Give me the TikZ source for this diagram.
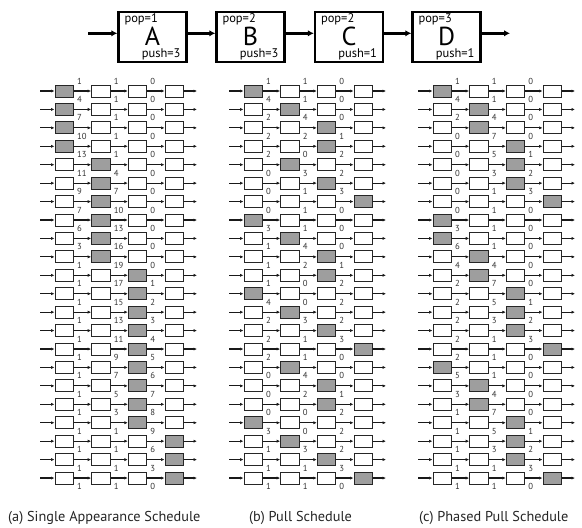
\documentclass[tikz,border=0pt]{standalone}
\usepackage{fontspec}
\setmainfont{PT Sans}
\usetikzlibrary{arrows.meta,calc}
\tikzset{
  cell/.style={draw=black!85, line width=0.9pt, minimum width=18.5pt, minimum height=12pt, inner sep=0pt, fill=white},
  fired/.style={cell, fill=black!38},
  link/.style={line width=1.1pt, draw=black!90, -{Latex[length=3.5pt,width=3.2pt]}},
  cnt/.style={font=\fontsize{8.7}{8.7}\selectfont, text=black!80, inner sep=0pt, anchor=base west},
  filt/.style={draw, line width=2.4pt, minimum width=68pt, minimum height=50pt, inner sep=0pt},
  flow/.style={line width=2.6pt, -{Latex[length=6pt,width=6.5pt]}},
  big/.style={font=\fontsize{26}{26}\selectfont, inner sep=0pt},
  rate/.style={font=\fontsize{12.5}{12.5}\selectfont, inner sep=0pt},
  capt/.style={font=\fontsize{14.3}{14.3}\selectfont, inner sep=0pt, anchor=base west, text=black!85},
}
\newcommand\schedcol[3]{%
  \foreach \s/\p/\q/\r [count=\i] in {#3} {
    \pgfmathsetmacro\yy{91+(\i-1)*18.43}
    \foreach \j in {1,2,3,4} {
      \pgfmathsetmacro\xx{#2+64.2+(\j-1)*36.67}
      \ifnum\j=\s\relax
        \node[fired] (#1-\i-\j) at (\xx,\yy) {};
      \else
        \node[cell] (#1-\i-\j) at (\xx,\yy) {};
      \fi
    }
    \coordinate (#1-\i-in) at (#2+40,\yy);
    \coordinate (#1-\i-out) at (#2+197,\yy);
    \draw[link] (#1-\i-in) -- (#1-\i-1);
    \draw[link] (#1-\i-1) -- (#1-\i-2);
    \draw[link] (#1-\i-2) -- (#1-\i-3);
    \draw[link] (#1-\i-3) -- (#1-\i-4);
    \draw[link] (#1-\i-4) -- (#1-\i-out);
    \node[cnt] (#1-\i-n1) at ($(#1-\i-1.east)+(3,-7)$) {\p};
    \node[cnt] (#1-\i-n2) at ($(#1-\i-2.east)+(3,-7)$) {\q};
    \node[cnt] (#1-\i-n3) at ($(#1-\i-3.east)+(3,-7)$) {\r};
  }
}
\newcommand\finalrow[4]{%
  \node[cnt] (#1-f1) at ($(#1-22-1.east)+(3,11.4)$) {#2};
  \node[cnt] (#1-f2) at ($(#1-22-2.east)+(3,11.4)$) {#3};
  \node[cnt] (#1-f3) at ($(#1-22-3.east)+(3,11.4)$) {#4};
}
\begin{document}
\begin{tikzpicture}[x=1pt,y=-1pt]
\useasboundingbox (0,0) rectangle (582,528);
\fill[white] (0,0) rectangle (582,528);

% top pipeline
\node[filt] (A) at (152.5,36.7) {};
\node[filt] (B) at (250.5,36.7) {};
\node[filt] (C) at (349,36.7) {};
\node[filt] (D) at (446.5,36.7) {};
\foreach \n/\l/\po/\pu in {A/A/1/3, B/B/2/3, C/C/2/1, D/D/3/1} {
  \node[big] (\n-name) at ($(\n.center)+(0,-0.6)$) {\l};
  \node[rate, anchor=north west] (\n-pop) at ($(\n.north west)+(7,2.8)$) {pop=\po};
  \node[rate, anchor=base east] (\n-push) at ($(\n.south east)+(-7,-5.6)$) {push=\pu};
}
\coordinate (src) at (88,33.3);
\coordinate (snk) at (510,33.3);
\draw[flow] (src) -- (src -| A.west);
\draw[flow] ([yshift=3.4pt]A.east) -- ([yshift=3.4pt]B.west);
\draw[flow] ([yshift=3.4pt]B.east) -- ([yshift=3.4pt]C.west);
\draw[flow] ([yshift=3.4pt]C.east) -- ([yshift=3.4pt]D.west);
\draw[flow] ([yshift=3.4pt]D.east) -- (snk);

% (a) single appearance schedule
\schedcol{a}{0}{1/1/1/0, 1/4/1/0, 1/7/1/0, 1/10/1/0, 2/13/1/0, 2/11/4/0, 2/9/7/0, 2/7/10/0, 2/6/13/0, 2/3/16/0, 3/1/19/0, 3/1/17/1, 3/1/15/2, 3/1/13/3, 3/1/11/4, 3/1/9/5, 3/1/7/6, 3/1/5/7, 3/1/3/8, 4/1/1/9, 4/1/1/6, 4/1/1/3}
\finalrow{a}{1}{1}{0}

% (b) pull schedule
\schedcol{b}{189}{1/1/1/0, 2/4/1/0, 3/2/4/0, 3/2/2/1, 2/2/0/2, 3/0/3/2, 4/0/1/3, 1/0/1/0, 2/3/1/0, 3/1/4/0, 3/1/2/1, 1/1/0/2, 2/4/0/2, 3/2/3/2, 4/2/1/3, 2/2/1/0, 3/0/4/0, 3/0/2/1, 1/0/0/2, 2/3/0/2, 3/1/3/2, 4/1/1/3}
\finalrow{b}{1}{1}{0}

% (c) phased pull schedule
\schedcol{c}{378}{1/1/1/0, 2/4/1/0, 2/2/4/0, 3/0/7/0, 3/0/5/1, 3/0/3/2, 4/0/1/3, 1/0/1/0, 1/3/1/0, 2/6/1/0, 2/4/4/0, 3/2/7/0, 3/2/5/1, 3/2/3/2, 4/2/1/3, 1/2/1/0, 2/5/1/0, 2/3/4/0, 3/1/7/0, 3/1/5/1, 3/1/3/2, 4/1/1/3}
\finalrow{c}{1}{1}{0}

% captions
\node[capt] (capa) at (8,521) {(a) Single Appearance Schedule};
\node[capt] (capb) at (249,521) {(b) Pull Schedule};
\node[capt] (capc) at (419,521) {(c) Phased Pull Schedule};
\end{tikzpicture}
\end{document}
